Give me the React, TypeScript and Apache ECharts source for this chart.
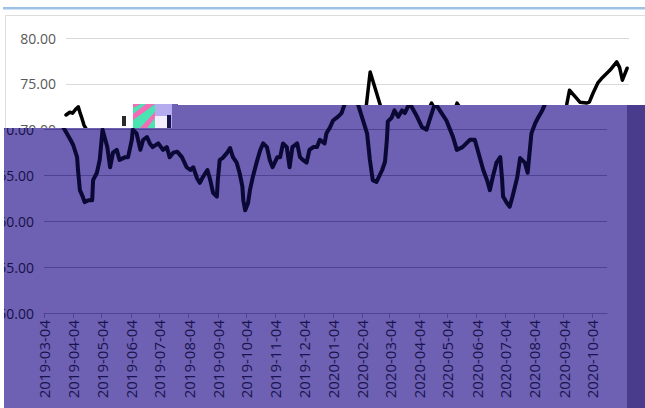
import React, { useEffect, useRef } from "react";
import * as echarts from "echarts";

const dates = [
  "2019-03-04","2019-03-08","2019-03-11","2019-03-14","2019-03-17","2019-03-19","2019-03-21","2019-03-23",
  "2019-04-01","2019-04-04","2019-04-08","2019-04-09","2019-04-11","2019-04-14","2019-04-16","2019-04-20",
  "2019-04-24","2019-04-25","2019-04-29","2019-05-02","2019-05-04","2019-05-05","2019-05-10","2019-05-13",
  "2019-05-16","2019-05-20","2019-05-23","2019-05-29","2019-06-01","2019-06-05","2019-06-06","2019-06-10",
  "2019-06-14","2019-06-17","2019-06-21","2019-06-24","2019-06-27","2019-07-03","2019-07-08","2019-07-12",
  "2019-07-15","2019-07-19","2019-07-23","2019-07-28","2019-08-02","2019-08-06","2019-08-09","2019-08-13",
  "2019-08-16","2019-08-19","2019-08-24","2019-08-27","2019-08-30","2019-09-03","2019-09-04","2019-09-06",
  "2019-09-09","2019-09-14","2019-09-17","2019-09-20","2019-09-24","2019-09-27","2019-09-30","2019-10-01",
  "2019-10-03","2019-10-06","2019-10-08","2019-10-11","2019-10-15","2019-10-19","2019-10-22","2019-10-26",
  "2019-10-29","2019-11-01","2019-11-06","2019-11-09","2019-11-12","2019-11-16","2019-11-19","2019-11-22",
  "2019-11-27","2019-11-30","2019-12-03","2019-12-07","2019-12-10","2019-12-14","2019-12-18","2019-12-21",
  "2019-12-26","2019-12-28","2020-01-01","2020-01-04","2020-01-09","2020-01-13","2020-01-16","2020-01-20",
  "2020-01-30","2020-02-09","2020-02-12","2020-02-15","2020-02-19","2020-02-25","2020-02-28","2020-03-01",
  "2020-03-02","2020-03-06","2020-03-09","2020-03-13","2020-03-17","2020-03-20","2020-03-25","2020-04-02",
  "2020-04-07","2020-04-12","2020-04-15","2020-04-21","2020-04-26","2020-05-03","2020-05-10","2020-05-14",
  "2020-05-20","2020-05-28","2020-06-02","2020-06-05","2020-06-11","2020-06-15","2020-06-18","2020-06-21",
  "2020-06-25","2020-06-29","2020-07-01","2020-07-02","2020-07-06","2020-07-09","2020-07-12","2020-07-17",
  "2020-07-20","2020-07-25","2020-07-28","2020-08-01","2020-08-05","2020-08-08","2020-08-12","2020-08-15",
  "2020-08-18","2020-08-24","2020-08-29","2020-09-05","2020-09-08","2020-09-12","2020-09-17","2020-09-22",
  "2020-09-30","2020-10-07","2020-10-10","2020-10-13","2020-10-18"
];

const values = [
  71.6,71.9,71.8,72.2,72.5,71.8,71.2,70.5,
  68.9,68.3,67.0,65.6,63.4,62.7,62.1,62.3,
  62.3,64.5,65.3,66.7,68.9,70.0,68.1,65.9,
  67.5,67.8,66.7,67.0,67.0,68.9,70.0,69.6,
  67.8,68.9,69.2,68.5,68.1,68.5,67.8,68.1,
  67.0,67.5,67.6,67.0,65.9,65.6,65.9,64.7,
  64.2,64.8,65.6,64.5,63.1,62.7,64.5,66.7,
  66.9,67.5,68.0,67.0,66.4,65.3,63.8,62.3,
  61.2,62.0,63.4,64.8,66.4,67.8,68.5,68.1,
  66.7,65.9,67.0,67.0,68.5,68.1,65.9,68.1,
  68.5,67.0,66.7,66.4,67.8,68.1,68.1,68.9,
  68.5,69.6,70.3,71.0,71.4,71.8,72.7,76.3,
  72.9,69.6,66.7,64.5,64.3,65.6,66.5,68.9,
  70.9,71.3,72.1,71.4,72.1,71.8,72.9,71.4,
  70.3,70.0,71.0,72.9,72.1,71.0,69.2,67.8,
  68.1,68.9,68.9,67.8,65.6,64.5,63.4,64.8,
  66.4,67.0,64.5,62.7,62.0,61.6,62.7,64.8,
  66.9,66.4,65.3,69.6,70.7,71.3,72.0,72.7,
  74.3,73.6,73.0,72.9,73.0,74.0,75.1,75.7,
  76.5,77.4,76.8,75.4,76.7
];

const tickDates = [
  "2019-03-04","2019-04-04","2019-05-04","2019-06-04","2019-07-04","2019-08-04","2019-09-04",
  "2019-10-04","2019-11-04","2019-12-04","2020-01-04","2020-02-04","2020-03-04","2020-04-04",
  "2020-05-04","2020-06-04","2020-07-04","2020-08-04","2020-09-04","2020-10-04"
];

const axisMin = "2019-03-04";
const axisMax = "2020-10-20";
const yMin = 50;
const yMax = 80;
const yStep = 5;

function ts(s: string) {
  const [y, m, d] = s.split("-").map(Number);
  return Date.UTC(y, m - 1, d);
}

function fmtDate(v: number) {
  const d = new Date(v);
  const p = (n: number) => String(n).padStart(2, "0");
  return `${d.getUTCFullYear()}-${p(d.getUTCMonth() + 1)}-${p(d.getUTCDate())}`;
}

type Theme = { line: string; lineWidth: number; grid: string; axis: string; xLabel: string; yLabel: string };

function buildOption(t: Theme, extraGraphic: any[]) {
  const tickVals = tickDates.map(ts);
  return {
    animation: false,
    textStyle: { fontFamily: "Open Sans" },
    grid: { left: 66, right: 16, top: 38, bottom: 95, containLabel: false },
    xAxis: {
      type: "value",
      min: ts(axisMin),
      max: ts(axisMax),
      scale: true,
      splitLine: { show: false },
      axisLine: { show: true, lineStyle: { color: t.axis, width: 1 } },
      axisTick: { show: true, customValues: tickVals, length: 5, lineStyle: { color: t.axis } },
      axisLabel: {
        customValues: tickVals,
        rotate: 90,
        formatter: (v: number) => fmtDate(v),
        color: t.xLabel,
        fontFamily: "Open Sans",
        fontSize: 15,
        margin: 7,
        hideOverlap: false,
      },
    },
    yAxis: {
      type: "value",
      min: yMin,
      max: yMax,
      interval: yStep,
      axisLine: { show: false },
      axisTick: { show: false },
      splitLine: { show: true, lineStyle: { color: t.grid, width: 1 } },
      axisLabel: {
        formatter: (v: number) => v.toFixed(2),
        color: t.yLabel,
        fontFamily: "Open Sans",
        fontSize: 14,
        margin: 10,
      },
    },
    series: [
      {
        type: "line",
        data: dates.map((d, i) => [ts(d), values[i]]),
        showSymbol: false,
        symbol: "none",
        lineStyle: { color: t.line, width: t.lineWidth, join: "round", cap: "round" },
        z: 5,
      },
    ],
    graphic: extraGraphic,
  };
}

const baseGraphic = [
  { type: "rect", silent: true, z: 100, shape: { x: 3, y: 7, width: 642, height: 2.5 }, style: { fill: "#9dc3e6" } },
  { type: "rect", silent: true, z: 100, shape: { x: 5.5, y: 15.5, width: 660, height: 420 }, style: { fill: "none", stroke: "#dcdcdc", lineWidth: 1 } },
  { type: "rect", silent: true, z: 100, shape: { x: 133, y: 104, width: 22, height: 24 }, style: { fill: "#f46cb6" } },
  { type: "polygon", silent: true, z: 101, shape: { points: [[133, 108], [141, 104], [146, 104], [133, 114]] }, style: { fill: "#4ae3b2" } },
  { type: "polygon", silent: true, z: 101, shape: { points: [[133, 120], [147, 110], [155, 104], [155, 112], [140, 128], [133, 128]] }, style: { fill: "#4ae3b2" } },
  { type: "polygon", silent: true, z: 101, shape: { points: [[147, 128], [155, 118], [155, 128]] }, style: { fill: "#4ae3b2" } },
  { type: "rect", silent: true, z: 100, shape: { x: 155, y: 104, width: 23, height: 24 }, style: { fill: "#b5acf0" } },
  { type: "rect", silent: true, z: 101, shape: { x: 155, y: 116, width: 12, height: 12 }, style: { fill: "#f3ecff" } },
  { type: "rect", silent: true, z: 101, shape: { x: 167, y: 115, width: 4, height: 13 }, style: { fill: "#15124a" } },
  { type: "rect", silent: true, z: 101, shape: { x: 172, y: 104, width: 6, height: 24 }, style: { fill: "#6e60b2" } },
  { type: "rect", silent: true, z: 100, shape: { x: 122, y: 116, width: 4, height: 10 }, style: { fill: "#2a2a2a" } },
];

function Chart({ theme, graphic, style }: { theme: Theme; graphic: any[]; style: React.CSSProperties }) {
  const ref = useRef<HTMLDivElement>(null);
  useEffect(() => {
    if (!ref.current) return;
    const chart = echarts.init(ref.current, undefined, { renderer: "svg" });
    chart.setOption(buildOption(theme, graphic));
    return () => chart.dispose();
  }, []);
  return <div ref={ref} style={style} />;
}

export default function App() {
  const baseTheme: Theme = { line: "#000000", lineWidth: 3.5, grid: "#d9d9d9", axis: "#d9d9d9", xLabel: "#595959", yLabel: "#595959" };
  const overlayTheme: Theme = { line: "#0a0834", lineWidth: 4, grid: "#4e4392", axis: "#4e4392", xLabel: "#18144f", yLabel: "#15124a" };
  return (
    <div style={{ position: "fixed", left: 0, top: 0, width: 645, height: 408, background: "#ffffff", overflow: "hidden" }}>
      <Chart theme={baseTheme} graphic={baseGraphic} style={{ position: "absolute", left: 0, top: 0, width: 645, height: 408 }} />
      <div
        style={{
          position: "absolute",
          left: 0,
          top: 0,
          width: 645,
          height: 408,
          background: "#6e60b2",
          clipPath: "polygon(4px 128px, 178px 128px, 178px 105px, 645px 105px, 645px 408px, 4px 408px)",
          overflow: "hidden",
        }}
      >
        <Chart theme={overlayTheme} graphic={[]} style={{ position: "absolute", left: -22, top: 0, width: 645, height: 408 }} />
        <div style={{ position: "absolute", left: 627, top: 0, width: 18, height: 408, background: "#4a3c8c" }} />
      </div>
    </div>
  );
}
